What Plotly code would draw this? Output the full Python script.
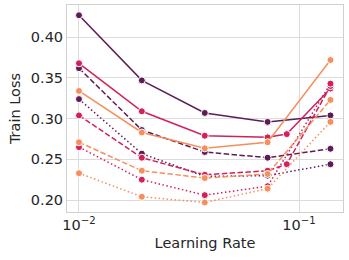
import plotly.graph_objects as go

lr = [0.01, 0.0193, 0.0373, 0.072, 0.139]
lr_extra = [0.01, 0.0193, 0.0373, 0.072, 0.088, 0.139]

dark_solid = [0.427, 0.347, 0.307, 0.296, 0.304]
dark_dashed = [0.362, 0.286, 0.259, 0.252, 0.263]
dark_dotted = [0.324, 0.257, 0.229, 0.230, 0.244]

red_solid = [0.368, 0.309, 0.279, 0.277, 0.281, 0.337]
red_dashed = [0.304, 0.252, 0.231, 0.236, 0.244, 0.340]
red_dotted = [0.265, 0.225, 0.206, 0.217, 0.343]

orange_solid = [0.334, 0.283, 0.2635, 0.271, 0.372]
orange_dashed = [0.271, 0.236, 0.227, 0.232, 0.323]
orange_dotted = [0.233, 0.204, 0.197, 0.214, 0.296]

DARK = "#5e1c55"
RED = "#d0215a"
ORANGE = "#f5905e"
SOLID = "solid"
DASH = "5.5px,2.4px"
DOT = "1.5px,2.5px"

series = [
    (lr, dark_solid, DARK, SOLID),
    (lr, dark_dashed, DARK, DASH),
    (lr, dark_dotted, DARK, DOT),
    (lr_extra, red_solid, RED, SOLID),
    (lr_extra, red_dashed, RED, DASH),
    (lr, red_dotted, RED, DOT),
    (lr, orange_solid, ORANGE, SOLID),
    (lr, orange_dashed, ORANGE, DASH),
    (lr, orange_dotted, ORANGE, DOT),
]

fig = go.Figure()
for xs, ys, c, d in series:
    fig.add_trace(go.Scatter(
        x=xs, y=ys, mode="lines+markers",
        line=dict(color=c, width=1.5, dash=d),
        marker=dict(color=c, size=7, line=dict(color="white", width=1)),
        showlegend=False,
    ))

font = "DejaVu Sans, sans-serif"
fig.update_layout(
    width=349, height=260,
    margin=dict(l=67, r=6, t=5, b=48),
    paper_bgcolor="white", plot_bgcolor="white",
    font=dict(family=font, size=14, color="#262626"),
)
fig.update_xaxes(
    type="log", range=[-2.0545, -0.8], automargin=False,
    tickvals=[0.01, 0.1], ticktext=["10<sup>−2</sup>", "10<sup>−1</sup>"],
    showgrid=True, gridcolor="#dcdcdc", gridwidth=1,
    showline=True, linecolor="#d0d0d0", mirror=True, linewidth=1,
    zeroline=False, ticks="",
    title=dict(text="Learning Rate", font=dict(size=14.5), standoff=5),
    tickfont=dict(size=14.5),
)
fig.update_yaxes(
    range=[0.1853, 0.4396], automargin=False,
    tickvals=[0.20, 0.25, 0.30, 0.35, 0.40],
    ticktext=["0.20", "0.25", "0.30", "0.35", "0.40"],
    showgrid=True, gridcolor="#dcdcdc", gridwidth=1,
    showline=True, linecolor="#d0d0d0", mirror=True, linewidth=1,
    zeroline=False, ticks="",
    title=dict(text="Train Loss", font=dict(size=14.5), standoff=6),
    tickfont=dict(size=14.5),
)

fig.write_html("out.html", config={"displayModeBar": False},
               post_script="document.body.style.margin='0';")
